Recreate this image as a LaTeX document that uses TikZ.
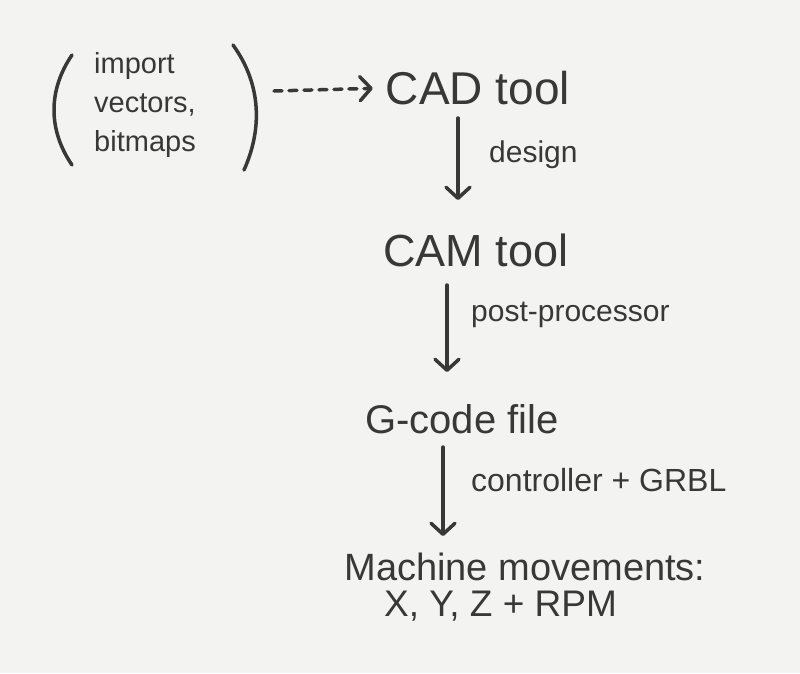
\documentclass[tikz,border=0pt]{standalone}
\usepackage{fontspec}
\setmainfont{Liberation Sans}
\usetikzlibrary{arrows.meta}
\definecolor{ink}{HTML}{383838}
\definecolor{paper}{HTML}{F3F3F1}
\begin{document}
\begin{tikzpicture}[x=1pt,y=-1pt,
  ink/.style={draw=ink,line width=3.5pt,line cap=round},
  flow/.style={ink,-{Straight Barb[length=11pt,width=24pt,line width=3.5pt,round]}},
  main/.style={text=ink,inner sep=1pt,font=\fontsize{#1}{#1}\selectfont},
  lab/.style={text=ink,inner sep=1pt,anchor=west,font=\fontsize{30}{30}\selectfont}]
\fill[paper] (0,0) rectangle (800,673);
\useasboundingbox (0,0) rectangle (800,673);
% import block
\node[text=ink,align=left,font=\fontsize{29}{39}\selectfont] (imp) at (145,105) {import\\vectors,\\bitmaps};
\draw[ink] (72,55) .. controls (48,90) and (48,130) .. (72,165);
\draw[ink] (233,45) .. controls (262,85) and (262,130) .. (244,170);
\coordinate (rp) at (274,91);
% main nodes
\node[main=46] (cad) at (478,88) {CAD tool};
\node[main=45] (cam) at (476,250) {CAM tool};
\node[main=40] (gc) at (462,419) {G-code file};
\node[main=38] (mach) at (525,567) {Machine movements:};
\node[main=37,anchor=west] (xyz) at (383,606) {X, Y, Z + RPM};
% connectors
\draw[flow,dash pattern=on 8pt off 7pt,shorten >=12pt] (rp) -- (cad.west);
\draw[flow] (458,118) coordinate (a1) -- (458,200) coordinate (a1e);
\draw[flow] (447,285) coordinate (a2) -- (447,372) coordinate (a2e);
\draw[flow] (443,447) coordinate (a3) -- (443,536) coordinate (a3e);
% labels
\node[lab] (l1) at (488,155) {design};
\node[lab] (l2) at (470,315) {post-processor};
\node[lab,font=\fontsize{32}{32}\selectfont] (l3) at (470,480) {controller + GRBL};
\end{tikzpicture}
\end{document}
